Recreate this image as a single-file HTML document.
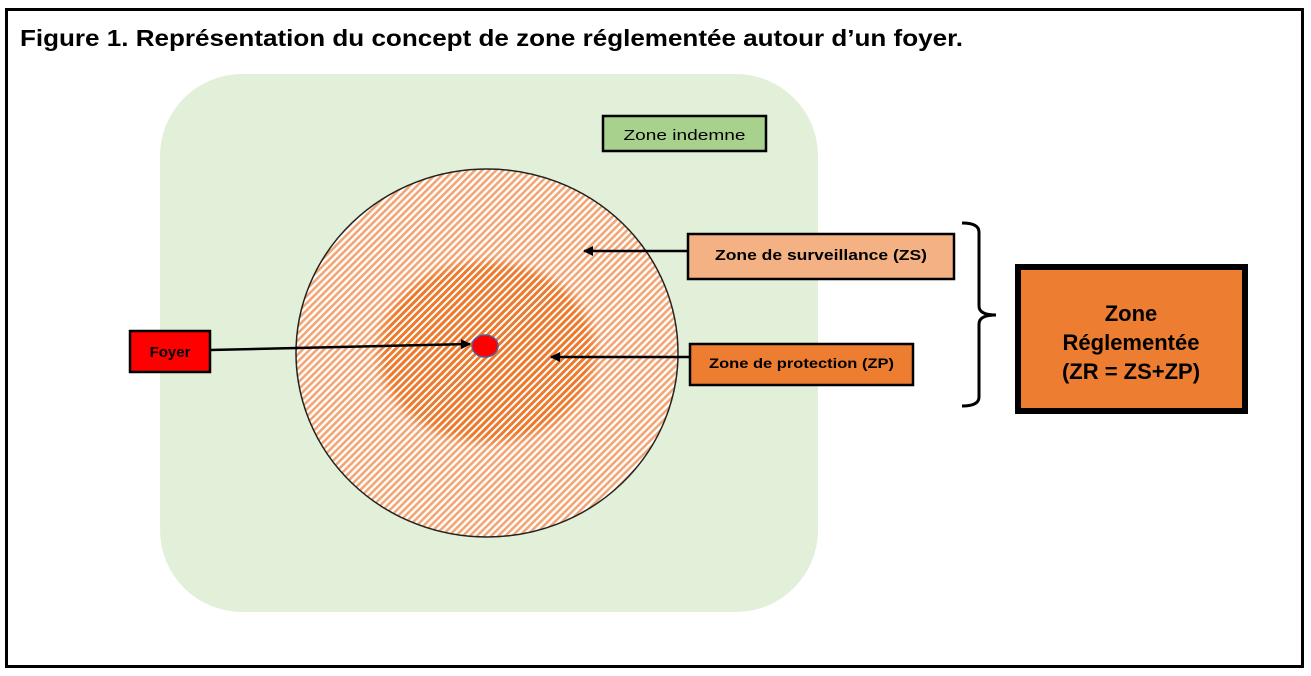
<!DOCTYPE html>
<html><head><meta charset="utf-8"><style>
html,body{margin:0;padding:0;background:#fff;width:1311px;height:676px;overflow:hidden}
</style></head><body>
<svg width="1311" height="676" viewBox="0 0 1311 676" xmlns="http://www.w3.org/2000/svg" font-family="Liberation Sans, sans-serif">
<defs>
<pattern id="h1" width="5" height="5" patternUnits="userSpaceOnUse" patternTransform="rotate(45)">
<rect width="5" height="5" fill="#fff"/><rect width="2.6" height="5" fill="#f4a574"/></pattern>
<pattern id="h2" width="5" height="5" patternUnits="userSpaceOnUse" patternTransform="rotate(45)">
<rect width="5" height="5" fill="#fff"/><rect width="3" height="5" fill="#ed7a2c"/></pattern>
<radialGradient id="fade"><stop offset="0.88" stop-color="#fff"/><stop offset="1" stop-color="#000"/></radialGradient>
<mask id="m"><ellipse cx="487" cy="352" rx="115" ry="96" fill="url(#fade)"/></mask>
<marker id="a" markerWidth="10" markerHeight="10" refX="9" refY="5" orient="auto" markerUnits="userSpaceOnUse"><path d="M0,0 L10,5 L0,10 z" fill="#000"/></marker>
</defs>
<rect x="6.5" y="9.5" width="1296" height="657" fill="#fff" stroke="#000" stroke-width="3"/>
<text x="20" y="46" font-size="23" font-weight="bold" fill="#000" textLength="943" lengthAdjust="spacingAndGlyphs">Figure 1. Représentation du concept de zone réglementée autour d’un foyer.</text>
<rect x="160" y="74" width="658" height="538" rx="82" fill="#e2efd9"/>
<ellipse cx="487" cy="353" rx="191" ry="184" fill="url(#h1)" stroke="#222" stroke-width="1.5"/>
<ellipse cx="487" cy="352" rx="115" ry="96" fill="url(#h2)" mask="url(#m)"/>
<ellipse cx="485" cy="346" rx="13" ry="11" fill="#f00" stroke="#5a5a8c" stroke-width="1.5"/>
<rect x="603" y="116" width="163" height="35" fill="#a9d18e" stroke="#000" stroke-width="2.5"/>
<text x="684.5" y="140" font-size="15" text-anchor="middle" textLength="122" lengthAdjust="spacingAndGlyphs">Zone indemne</text>
<rect x="688" y="234" width="266" height="45" fill="#f4b183" stroke="#000" stroke-width="2.5"/>
<text x="821" y="260" font-size="15" font-weight="bold" text-anchor="middle" textLength="212" lengthAdjust="spacingAndGlyphs">Zone de surveillance (ZS)</text>
<rect x="690" y="344" width="223" height="41" fill="#ed7d31" stroke="#000" stroke-width="2.5"/>
<text x="801.5" y="368" font-size="14" font-weight="bold" text-anchor="middle" textLength="185" lengthAdjust="spacingAndGlyphs">Zone de protection (ZP)</text>
<rect x="130" y="331" width="80" height="41" fill="#f00" stroke="#000" stroke-width="2.5"/>
<text x="170" y="357" font-size="15" font-weight="bold" text-anchor="middle">Foyer</text>
<line x1="210" y1="350" x2="470" y2="344" stroke="#000" stroke-width="2.5" marker-end="url(#a)"/>
<line x1="688" y1="251" x2="584" y2="251" stroke="#000" stroke-width="2.5" marker-end="url(#a)"/>
<line x1="690" y1="357" x2="551" y2="357" stroke="#000" stroke-width="2.5" marker-end="url(#a)"/>
<path d="M962,223 Q979,223 979,232 L979,306 Q979,315 996,315 Q979,315 979,324 L979,397 Q979,406 962,406" fill="none" stroke="#000" stroke-width="3"/>
<rect x="1018" y="267" width="227" height="144" fill="#ed7d31" stroke="#000" stroke-width="6"/>
<text x="1131" y="321" font-size="22" font-weight="bold" text-anchor="middle">Zone</text>
<text x="1131" y="350" font-size="22" font-weight="bold" text-anchor="middle">Réglementée</text>
<text x="1131" y="379" font-size="22" font-weight="bold" text-anchor="middle">(ZR = ZS+ZP)</text>
</svg>
</body></html>
